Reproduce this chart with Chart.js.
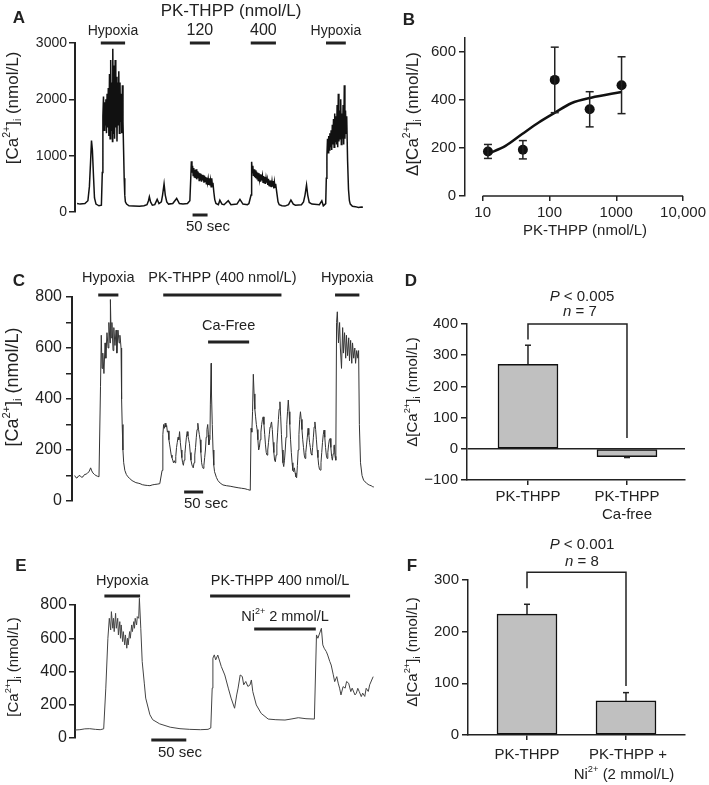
<!DOCTYPE html>
<html>
<head>
<meta charset="utf-8">
<script src="https://cdn.jsdelivr.net/npm/chart.js@4"></script>
<style>
  body { margin: 0; background: #fff; }
  #fig { position: relative; width: 709px; height: 785px; }
  #fig canvas { position: absolute; left: 0; top: 0; }
</style>
</head>
<body>
<div id="fig">
  <canvas id="chartA" width="709" height="785"></canvas>
  <canvas id="chartB" width="709" height="785"></canvas>
  <canvas id="chartC" width="709" height="785"></canvas>
  <canvas id="chartD" width="709" height="785"></canvas>
  <canvas id="chartE" width="709" height="785"></canvas>
  <canvas id="chartF" width="709" height="785"></canvas>
</div>
<script>
// ---- A: [Ca2+]i trace, [time (s), nmol/L]
const traceA = [
  [7,150],[17,140],[33,150],[43,200],[48,450],[52,900],[55,1270],[58,1100],[62,600],[65,250],[70,140],[80,110],[88,120],[91,700],[93,1700],
  [95,2050],[97,1450],[99,1950],[101,1550],[103,2000],[105,1400],[107,2100],[109,1500],[111,2200],[113,1350],[115,2450],[117,1300],
  [119,2700],[121,1450],[123,2300],[125,1250],[126,2900],[128,1400],[130,2600],[132,1300],[134,2700],[136,1500],[138,2400],[140,1250],
  [142,2300],[144,1550],[146,2500],[148,1400],[150,2300],[152,1600],[154,2100],[156,1400],[158,2250],[160,1600],
  [162,1100],[164,600],[166,300],[168,180],[172,140],[180,110],[195,105],[215,100],[230,110],[240,130],[245,200],[248,270],[252,180],
  [258,120],[266,130],[274,225],[280,150],[288,180],[292,300],[297,500],[301,300],[306,180],[312,140],[326,150],[339,240],[348,150],
  [360,140],[375,150],[383,200],[386,600],[388,900],
  [390,700],[392,820],[394,650],[396,780],[398,620],[400,750],[402,600],[404,760],[406,580],[408,720],[410,600],[412,700],[414,560],
  [416,690],[418,580],[420,680],[422,540],[424,660],[426,560],[428,650],[430,520],[432,640],[434,540],[436,620],[438,500],[440,610],
  [442,520],[444,590],[446,480],[448,600],[450,470],[452,560],[454,450],[456,600],[458,470],[460,520],
  [463,350],[466,220],[470,150],[478,130],[483,210],[490,140],[497,130],[511,200],[520,130],[540,140],[550,225],[560,140],[575,130],
  [580,150],[587,300],[589,890],
  [591,700],[593,820],[595,640],[597,760],[599,620],[601,740],[603,600],[605,720],[607,590],[609,700],[611,560],[613,690],[615,580],
  [617,670],[619,540],[621,660],[623,560],[625,640],[627,530],[629,640],[631,520],[633,620],[635,500],[637,600],[639,520],[641,580],
  [643,480],[645,590],[647,470],[649,560],[651,460],[653,560],[655,440],[657,540],[659,450],[661,550],[663,420],[665,530],[667,440],
  [669,500],[671,420],
  [674,300],[677,180],[681,130],[690,110],[700,105],[712,130],[720,213],[728,140],[735,120],[755,130],[762,180],[767,300],[772,480],
  [776,300],[781,170],[790,140],[815,130],[823,200],[828,110],[836,150],[838,600],[840,1000],
  [842,1300],[844,1050],[846,1350],[848,1100],[850,1400],[852,1150],[854,1450],[856,1100],[858,1550],[860,1200],[862,1650],[864,1150],
  [866,1750],[868,1250],[870,1700],[872,1200],[874,1900],[876,1150],[878,2100],[880,1250],[882,1800],[884,1300],[886,2000],[888,1200],
  [890,1750],[892,1300],[894,1900],[896,1200],[898,2250],[900,1300],[902,1800],[904,1400],[906,1700],
  [909,900],[912,400],[915,200],[918,140],[925,100],[935,95],[945,80],[955,90],[960,85],
];
const yTicksA = [0, 1000, 2000, 3000];
const hypoxiaA = [[86, 167], [837, 903]];
const doseA = [['120', 383, 450], ['400', 586, 670]];
const scaleBarA = [392, 442];

// ---- B: dose response
const doseB = [12, 40, 120, 400, 1200];
const meanB = [185, 192, 482, 360, 460];
const semB = [29, 38, 136, 73, 118];
const fitDoseB = [12, 22, 39, 69, 121, 212, 420, 1200];
const fitB = [175, 208, 257, 305, 346, 385, 408, 432];
const xTicksB = [10, 100, 1000, 10000];
const yTicksB = [0, 200, 400, 600];

// ---- C: trace, [time (s), nmol/L]
const traceC = [
  [7,100],[10,92],[13,90],[17,98],[21,100],[25,93],[29,95],[33,104],[37,105],[41,110],[45,115],[49,130],[52,118],[55,110],[59,104],
  [63,100],[67,97],[71,95],[75,450],[77,650],[79,520],[81,580],[84,500],[87,620],[89,560],[92,660],[95,600],[97,700],[100,620],
  [101,790],[103,640],[105,700],[108,590],[110,680],[113,610],[116,670],[118,580],[121,670],[124,620],[126,650],[128,620],[129,600],
  [130,520],[131,400],[132,300],[134,200],[136,150],[139,120],[143,104],[147,95],[152,88],[158,80],[163,76],[168,72],[174,70],[179,68],
  [185,64],[192,62],[198,61],[205,60],[211,63],[218,65],[224,66],[231,68],
  [237,120],[239,260],[241,300],[243,285],[245,305],[247,290],[249,296],[251,270],[253,275],[255,240],[257,220],[259,200],[261,180],
  [263,170],[265,160],[267,150],[269,158],[271,150],[273,175],[275,210],[277,230],[279,250],[281,240],[283,272],[285,230],[287,200],
  [289,170],[291,150],[293,140],[295,160],[297,185],[299,220],[301,250],[303,272],[305,255],[307,240],[309,225],[311,190],[313,160],
  [315,145],[317,135],[319,130],[321,150],[323,180],[325,210],[327,250],[329,280],[331,305],[333,280],[335,260],[337,240],[339,190],
  [341,150],[343,135],[345,128],[347,140],[349,170],[351,200],[353,250],[355,280],[357,300],[359,260],[360,220],[362,240],[363,260],
  [364,380],[366,540],[367,420],[369,300],[371,200],[373,140],[375,115],
  [380,92],[384,80],[390,70],[397,63],[406,60],[416,58],[426,55],[437,52],[446,50],[455,48],[462,45],[469,42],
  [471,285],[473,270],[475,350],[477,497],[479,420],[481,360],[483,330],[485,300],[487,280],[489,240],[491,200],[493,210],[495,240],
  [497,270],[499,300],[501,320],[503,330],[505,300],[507,260],[509,220],[511,190],[513,180],[515,200],[517,230],[519,260],[521,290],
  [523,300],[525,310],[527,280],[529,230],[531,190],[533,160],[535,154],[537,180],[539,220],[541,270],[543,320],[545,360],[547,389],
  [549,330],[551,260],[553,200],[555,150],[557,135],[559,160],[561,200],[563,250],[565,300],[567,350],[569,396],[571,350],[573,300],
  [575,240],[577,190],[579,150],[581,120],[583,115],[585,130],[587,110],[589,95],[591,91],[593,140],[595,200],[597,260],[599,320],
  [601,350],[603,320],[605,280],[607,240],[609,210],[611,180],[613,167],[615,190],[617,220],[619,250],[621,285],[623,260],[625,230],
  [627,210],[629,185],[631,180],[633,210],[635,250],[637,290],[639,310],[641,280],[643,240],[645,200],[647,170],[649,140],[651,125],
  [653,121],[655,150],[657,190],[659,230],[661,260],[663,278],[665,250],[667,210],[669,180],[671,167],[673,190],[675,220],[677,240],
  [679,245],[681,210],[683,175],[685,160],[687,185],[689,215],[690,220],[692,175],[694,160],
  [696,700],[698,742],[701,620],[704,700],[706,600],[709,520],[712,680],[714,580],[717,660],[720,560],[722,650],[725,570],[728,640],
  [730,550],[733,630],[736,540],[738,620],[741,560],[744,600],[746,540],[749,590],[752,560],[754,590],
  [756,300],[759,150],[763,100],[767,82],[771,75],[775,70],[779,65],[783,62],[787,60],[791,56],[794,55],
];
const yTicksC = [0, 100, 200, 300, 400, 500, 600, 700, 800];
const hypoxiaC = [[69, 122], [692, 756]];
const pkC = [[240, 551]];
const caFreeC = [[358, 466]];
const scaleBarC = [295, 345];

// ---- D: bar chart
const meanD = [271, -25];
const errD = [61, 3];
const bracketD = [400, 350, 35];
const yTicksD = [-100, 0, 100, 200, 300, 400];

// ---- E: trace, [time (s), nmol/L]
const traceE = [
  [0,48],[7,50],[14,55],[21,56],[29,52],[36,50],[41,55],[44,300],[47,600],[49,720],[51,650],[52,760],[54,660],[55,720],[56,640],
  [58,750],[59,660],[61,720],[62,620],[64,700],[65,600],[66,680],[68,580],[69,640],[71,560],[72,620],[74,540],[75,600],[76,560],
  [78,640],[79,600],[81,680],[82,640],[84,700],[85,660],[86,720],[88,680],[89,730],[91,720],[92,840],[94,660],[96,460],[99,330],
  [101,240],[107,140],[111,110],[121,85],[136,65],[150,56],[164,52],[179,50],[190,52],[194,60],
  [196,300],[197,480],[199,500],[201,470],[204,499],[209,430],[214,379],[219,300],[223,240],[228,179],[231,259],[233,300],[236,379],
  [239,370],[241,320],[244,340],[247,310],[250,319],[252,349],[254,279],[259,199],[266,148],[276,114],[287,110],[300,108],[310,115],
  [319,122],[330,116],[342,114],
  [345,620],[347,600],[352,660],[354,560],[356,540],[359,520],[361,499],[364,460],[366,439],[369,380],[371,339],[374,369],[376,330],
  [378,300],[380,259],[383,309],[386,300],[388,340],[391,329],[394,279],[396,300],[400,259],[402,270],[404,299],[406,280],[409,249],
  [411,270],[414,250],[416,299],[419,280],[421,320],[426,369],
];
const yTicksE = [0, 200, 400, 600, 800];
const hypoxiaE = [[42, 93]];
const pkE = [[193, 393]];
const niE = [[256, 344]];
const scaleBarE = [109, 159];

// ---- F: bar chart
const meanF = [234, 66];
const errF = [19, 16];
const bracketF = [315, 284, 95];
const yTicksF = [0, 100, 200, 300];

const INK = '#222';
const FONT = '"Liberation Sans", Arial, Helvetica, sans-serif';
const CA = [['[Ca'], ['2+', 'sup'], [']'], ['i', 'sub'], [' (nmol/L)']];
const DCA = [['Δ[Ca'], ['2+', 'sup'], [']'], ['i', 'sub'], [' (nmol/L)']];

Chart.defaults.font.family = FONT;
Chart.defaults.color = INK;

// text with optional sup/sub/italic pieces, centred on x,y
function rich(ctx, segs, x, y, size, rotate = false) {
    if (typeof segs === 'string') segs = [[segs]];
    const parts = segs.map(([t, kind]) => {
        const small = kind === 'sup' || kind === 'sub';
        const font = `${kind === 'it' ? 'italic ' : ''}${small ? size * 0.62 : size}px ${FONT}`;
        ctx.font = font;
        return { t, kind, font, w: ctx.measureText(t).width };
    });
    const total = parts.reduce((acc, p) => acc + p.w, 0);
    ctx.save();
    ctx.translate(x, y);
    if (rotate) ctx.rotate(-Math.PI / 2);
    ctx.fillStyle = INK;
    ctx.textBaseline = 'middle';
    ctx.textAlign = 'left';
    let cx = -total / 2;
    for (const p of parts) {
        ctx.font = p.font;
        const dy = p.kind === 'sup' ? -size * 0.36 : p.kind === 'sub' ? size * 0.28 : 0;
        ctx.fillText(p.t, cx, dy);
        cx += p.w;
    }
    ctx.restore();
}

function letter(ctx, t, x, y) {
    ctx.save();
    ctx.font = `bold 17px ${FONT}`;
    ctx.fillStyle = INK;
    ctx.textAlign = 'center';
    ctx.textBaseline = 'middle';
    ctx.fillText(t, x, y);
    ctx.restore();
}

function line(ctx, x1, y1, x2, y2, w) {
    ctx.beginPath();
    ctx.lineWidth = w;
    ctx.strokeStyle = INK;
    ctx.moveTo(x1, y1);
    ctx.lineTo(x2, y2);
    ctx.stroke();
}

// horizontal application bars, in time units of the x scale
function timeBars(chart, list, y, label, labelY, size) {
    const x = chart.scales.x;
    list.forEach(([from, to]) => {
        const a = x.getPixelForValue(from);
        const b = x.getPixelForValue(to);
        line(chart.ctx, a, y, b, y, 3);
        if (label) rich(chart.ctx, label, (a + b) / 2, labelY, size);
    });
}

function errorBars(chart, xs, means, errs, cap) {
    const { x, y } = chart.scales;
    xs.forEach((v, i) => {
        const px = x.getPixelForValue(v);
        const sign = means[i] < 0 ? -1 : 1;
        const y0 = y.getPixelForValue(means[i]);
        const y1 = y.getPixelForValue(means[i] + sign * errs[i]);
        line(chart.ctx, px, y0, px, y1, 1.5);
        line(chart.ctx, px - cap, y1, px + cap, y1, 1.5);
    });
}

function bracket(chart, [top, leftEnd, rightEnd]) {
    const { x, y } = chart.scales;
    const ctx = chart.ctx;
    const a = x.getPixelForValue(1);
    const b = x.getPixelForValue(2);
    ctx.beginPath();
    ctx.lineWidth = 1.5;
    ctx.strokeStyle = INK;
    ctx.moveTo(a, y.getPixelForValue(leftEnd));
    ctx.lineTo(a, y.getPixelForValue(top));
    ctx.lineTo(b, y.getPixelForValue(top));
    ctx.lineTo(b, y.getPixelForValue(rightEnd));
    ctx.stroke();
}

const overlay = draw => ({
    id: 'overlay',
    afterDraw(chart) {
        chart.ctx.save();
        draw(chart, chart.ctx);
        chart.ctx.restore();
    }
});

function yAxis(min, max, ticks, size, opts = {}) {
    return {
        min,
        max,
        afterFit: s => { s.width = 45; },
        afterBuildTicks: s => { s.ticks = ticks.map(value => ({ value })); },
        ticks: {
            font: { size },
            color: INK,
            padding: opts.pad ?? 3,
            callback: opts.label ?? (v => v < 0 ? '−' + (-v) : String(v)),
        },
        grid: {
            drawOnChartArea: !!opts.zeroLine,
            color: opts.zeroLine ? (c => c.tick && c.tick.value === 0 ? INK : 'rgba(0,0,0,0)') : INK,
            tickColor: INK,
            drawTicks: true,
            tickLength: 6,
            lineWidth: 1.5,
        },
        border: { display: true, color: INK, width: opts.axisWidth ?? 2 },
    };
}

function catAxis(min, max) {
    return {
        type: 'linear',
        offset: false,
        min,
        max,
        afterFit: s => { s.height = 8; },
        afterBuildTicks: s => { s.ticks = [{ value: 1 }, { value: 2 }]; },
        ticks: { display: false },
        grid: { drawOnChartArea: false, drawTicks: true, tickLength: 5, color: INK, lineWidth: 1.5, offset: false },
        border: { display: true, color: INK, width: 1.5 },
    };
}

const base = padding => ({
    responsive: false,
    animation: false,
    devicePixelRatio: 1,
    layout: { padding },
    plugins: { legend: { display: false }, tooltip: { enabled: false } },
});

const traceSet = (trace, color, width) => ({
    data: trace.map(([x, y]) => ({ x, y })),
    borderColor: color,
    borderWidth: width,
    pointRadius: 0,
    clip: false,
});

// A
new Chart(document.getElementById('chartA'), {
    type: 'line',
    data: { datasets: [traceSet(traceA, '#111', 1.5)] },
    options: {
        ...base({ left: 30, top: 43, right: 344, bottom: 573 }),
        scales: {
            x: { type: 'linear', display: false, min: 0, max: 967 },
            y: yAxis(0, 3000, yTicksA, 14, { pad: 2 }),
        },
    },
    plugins: [overlay((chart, ctx) => {
        letter(ctx, 'A', 19, 18);
        rich(ctx, 'PK-THPP (nmol/L)', 231, 11, 17);
        timeBars(chart, hypoxiaA, 43, 'Hypoxia', 31, 14);
        doseA.forEach(([label, from, to]) => timeBars(chart, [[from, to]], 43, label, 31, 16));
        timeBars(chart, [scaleBarA], 215);
        rich(ctx, '50 sec', 208, 227, 15);
        rich(ctx, CA, 13, 108, 17, true);
    })],
});

// B
new Chart(document.getElementById('chartB'), {
    type: 'line',
    data: {
        datasets: [
            {
                data: fitDoseB.map((x, i) => ({ x, y: fitB[i] })),
                borderColor: '#111',
                borderWidth: 2.5,
                pointRadius: 0,
                cubicInterpolationMode: 'monotone',
            },
            {
                data: doseB.map((x, i) => ({ x, y: meanB[i] })),
                showLine: false,
                pointRadius: 5,
                pointBackgroundColor: '#111',
                pointBorderWidth: 0,
            },
        ],
    },
    options: {
        ...base({ left: 420, top: 38, right: 23, bottom: 549 }),
        scales: {
            x: {
                type: 'logarithmic',
                min: 5.44,
                max: 10000,
                afterFit: s => { s.height = 40; },
                afterBuildTicks: s => { s.ticks = xTicksB.map(value => ({ value })); },
                ticks: {
                    font: { size: 15 },
                    color: INK,
                    padding: 3,
                    maxRotation: 0,
                    autoSkip: false,
                    callback: v => v === 10000 ? '10,000' : String(v),
                },
                grid: { drawOnChartArea: false, drawTicks: true, tickLength: 5, color: INK, lineWidth: 1.5 },
                border: { display: false },
            },
            y: yAxis(0, 656, yTicksB, 15, { axisWidth: 1.5 }),
        },
    },
    plugins: [overlay((chart, ctx) => {
        const x = chart.scales.x;
        const yb = chart.chartArea.bottom;
        line(ctx, x.getPixelForValue(xTicksB[0]), yb, x.getPixelForValue(xTicksB[xTicksB.length - 1]), yb, 1.5);
        errorBars(chart, doseB, meanB, semB, 4);
        errorBars(chart, doseB, meanB, semB.map(v => -v), 4);
        letter(ctx, 'B', 409, 20);
        rich(ctx, 'PK-THPP (nmol/L)', 585, 231, 15);
        rich(ctx, DCA, 413, 114, 17, true);
    })],
});

// C
new Chart(document.getElementById('chartC'), {
    type: 'line',
    data: { datasets: [traceSet(traceC, '#333', 1)] },
    options: {
        ...base({ left: 27, top: 297, right: 331, bottom: 284 }),
        scales: {
            x: { type: 'linear', display: false, min: 0, max: 805 },
            y: yAxis(0, 800, yTicksC, 16, { pad: 4, label: v => v % 200 ? '' : String(v) }),
        },
    },
    plugins: [overlay((chart, ctx) => {
        letter(ctx, 'C', 19, 281);
        timeBars(chart, hypoxiaC, 295, 'Hypoxia', 278, 14.5);
        timeBars(chart, pkC, 295, 'PK-THPP (400 nmol/L)', 278, 14.5);
        timeBars(chart, caFreeC, 342, 'Ca-Free', 326, 14.5);
        timeBars(chart, [scaleBarC], 492);
        rich(ctx, '50 sec', 206, 504, 15);
        rich(ctx, CA, 13, 387, 18, true);
    })],
});

// D
new Chart(document.getElementById('chartD'), {
    type: 'bar',
    data: {
        datasets: [{
            data: meanD.map((y, i) => ({ x: i + 1, y })),
            backgroundColor: '#c0c0c0',
            borderColor: '#111',
            borderWidth: 1.5,
            borderSkipped: false,
            barThickness: 60,
        }],
    },
    options: {
        ...base({ left: 422, top: 324, right: 24, bottom: 297 }),
        scales: {
            x: catAxis(0.384, 2.586),
            y: yAxis(-100, 400, yTicksD, 15, { axisWidth: 1.5, zeroLine: true }),
        },
    },
    plugins: [overlay((chart, ctx) => {
        const x = chart.scales.x;
        errorBars(chart, [1, 2], meanD, errD, 3);
        bracket(chart, bracketD);
        letter(ctx, 'D', 411, 281);
        rich(ctx, [['P', 'it'], [' < 0.005']], 582, 297, 15);
        rich(ctx, [['n', 'it'], [' = 7']], 580, 312, 15);
        rich(ctx, 'PK-THPP', x.getPixelForValue(1), 497, 15);
        rich(ctx, 'PK-THPP', x.getPixelForValue(2), 497, 15);
        rich(ctx, 'Ca-free', x.getPixelForValue(2), 515, 15);
        rich(ctx, DCA, 413, 392, 15, true);
    })],
});

// E
new Chart(document.getElementById('chartE'), {
    type: 'line',
    data: { datasets: [traceSet(traceE, '#444', 1)] },
    options: {
        ...base({ left: 30, top: 605, right: 334, bottom: 47 }),
        scales: {
            x: { type: 'linear', display: false, min: 0, max: 428.6 },
            y: yAxis(0, 800, yTicksE, 16, { pad: 2 }),
        },
    },
    plugins: [overlay((chart, ctx) => {
        letter(ctx, 'E', 21, 566);
        timeBars(chart, hypoxiaE, 596, 'Hypoxia', 581, 14.5);
        timeBars(chart, pkE, 596, 'PK-THPP 400 nmol/L', 581, 14.5);
        timeBars(chart, niE, 629, [['Ni'], ['2+', 'sup'], [' 2 mmol/L']], 617, 14.5);
        timeBars(chart, [scaleBarE], 740);
        rich(ctx, '50 sec', 180, 753, 15);
        rich(ctx, CA, 14, 667, 15, true);
    })],
});

// F
new Chart(document.getElementById('chartF'), {
    type: 'bar',
    data: {
        datasets: [{
            data: meanF.map((y, i) => ({ x: i + 1, y })),
            backgroundColor: '#c0c0c0',
            borderColor: '#111',
            borderWidth: 1.5,
            borderSkipped: false,
            barThickness: 60,
        }],
    },
    options: {
        ...base({ left: 423, top: 580, right: 24, bottom: 42 }),
        scales: {
            x: catAxis(0.404, 2.596),
            y: yAxis(0, 300, yTicksF, 15, { axisWidth: 1.5 }),
        },
    },
    plugins: [overlay((chart, ctx) => {
        const x = chart.scales.x;
        errorBars(chart, [1, 2], meanF, errF, 3);
        bracket(chart, bracketF);
        letter(ctx, 'F', 412, 566);
        rich(ctx, [['P', 'it'], [' < 0.001']], 582, 545, 15);
        rich(ctx, [['n', 'it'], [' = 8']], 582, 562, 15);
        rich(ctx, 'PK-THPP', x.getPixelForValue(1), 755, 15);
        rich(ctx, 'PK-THPP +', x.getPixelForValue(2) + 2, 755, 15);
        rich(ctx, [['Ni'], ['2+', 'sup'], [' (2 mmol/L)']], x.getPixelForValue(2) - 2, 775, 15);
        rich(ctx, DCA, 413, 652, 15, true);
    })],
});
</script>
</body>
</html>
